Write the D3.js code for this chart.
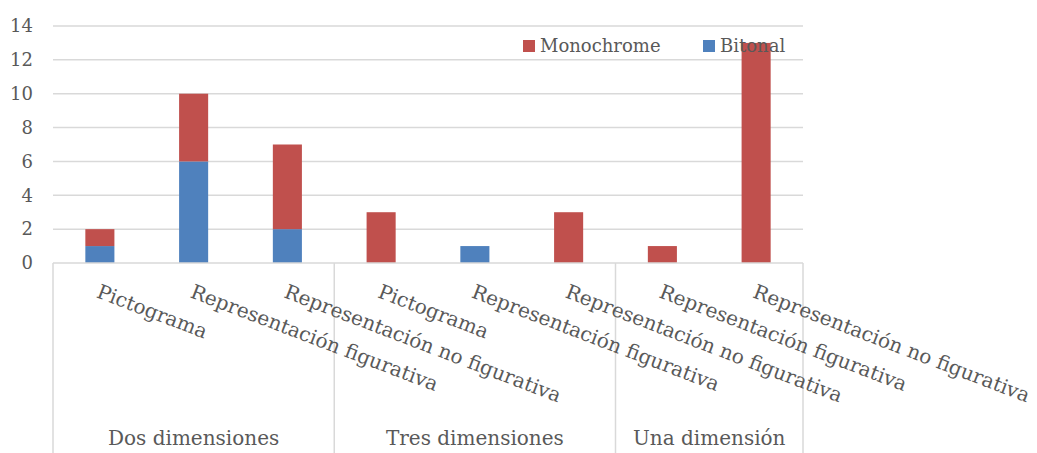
<!DOCTYPE html>
<html>
<head>
<meta charset="utf-8">
<script src="https://cdn.jsdelivr.net/npm/d3@7"></script>
<style>
  body { margin: 0; background: #fff; }
  text { font-family: "DejaVu Serif", serif; fill: #595959; }
</style>
</head>
<body>
<div class="display"></div>
<script>
const WIDTH = 1037;
const HEIGHT = 453;

// data
const groups = ['Dos dimensiones', 'Tres dimensiones', 'Una dimensión'];
const groupSizes = [3, 3, 2];
const categories = [
  'Pictograma', 'Representación figurativa', 'Representación no figurativa',
  'Pictograma', 'Representación figurativa', 'Representación no figurativa',
  'Representación figurativa', 'Representación no figurativa'
];
const bitonal = [1, 6, 2, 0, 1, 0, 0, 0];
const monochrome = [1, 4, 5, 3, 0, 3, 1, 13];
const seriesNames = ['Bitonal', 'Monochrome'];
const colors = { Bitonal: '#4F81BD', Monochrome: '#C0504D' };
const yTicks = [0, 2, 4, 6, 8, 10, 12, 14];

const PLOT_L = 53, PLOT_R = 803, PLOT_T = 26, PLOT_B = 263;

const svg = d3.select('.display')
  .append('svg')
  .attr('width', WIDTH)
  .attr('height', HEIGHT);

const x = d3.scaleBand()
  .domain(d3.range(categories.length))
  .range([PLOT_L, PLOT_R])
  .paddingInner(0.69)
  .paddingOuter(0.345);

const xc = d3.scaleBand()
  .domain(d3.range(categories.length))
  .range([PLOT_L, PLOT_R]);

const y = d3.scaleLinear()
  .domain([0, 14])
  .range([PLOT_B, PLOT_T]);

// gridlines
svg.append('g')
  .selectAll('line')
  .data(yTicks.filter(d => d > 0))
  .enter()
  .append('line')
  .attr('x1', PLOT_L)
  .attr('x2', PLOT_R)
  .attr('y1', d => y(d))
  .attr('y2', d => y(d))
  .attr('stroke', '#D9D9D9')
  .attr('stroke-width', 1.5);

// y labels
svg.append('g')
  .selectAll('text')
  .data(yTicks)
  .enter()
  .append('text')
  .attr('x', 33)
  .attr('y', d => y(d))
  .attr('dy', '0.35em')
  .attr('text-anchor', 'end')
  .style('font-size', '18px')
  .text(d => d);

// stacked bars
const rows = categories.map((c, i) => ({ i, Bitonal: bitonal[i], Monochrome: monochrome[i] }));
const stacked = d3.stack().keys(seriesNames)(rows);

svg.append('g')
  .selectAll('g')
  .data(stacked)
  .enter()
  .append('g')
  .attr('fill', d => colors[d.key])
  .selectAll('rect')
  .data(d => d.filter(p => p[1] > p[0]))
  .enter()
  .append('rect')
  .attr('x', d => x(d.data.i))
  .attr('width', x.bandwidth())
  .attr('y', d => y(d[1]))
  .attr('height', d => y(d[0]) - y(d[1]));

// axis line and group separators
const axis = svg.append('g').attr('stroke', '#D9D9D9').attr('stroke-width', 1.5);
axis.append('line')
  .attr('x1', PLOT_L).attr('x2', PLOT_R)
  .attr('y1', PLOT_B).attr('y2', PLOT_B);

let bounds = [0];
groupSizes.forEach(n => bounds.push(bounds[bounds.length - 1] + n));
const edge = i => i < categories.length ? xc(i) : PLOT_R;

axis.selectAll('.sep')
  .data(bounds)
  .enter()
  .append('line')
  .attr('class', 'sep')
  .attr('x1', d => edge(d))
  .attr('x2', d => edge(d))
  .attr('y1', PLOT_B)
  .attr('y2', HEIGHT);

// rotated category labels
svg.append('g')
  .selectAll('text')
  .data(categories)
  .enter()
  .append('text')
  .attr('transform', (d, i) => `translate(${xc(i) + xc.bandwidth() / 2 + 1},${PLOT_B + 20}) rotate(21)`)
  .attr('dy', '0.75em')
  .style('font-size', '20px')
  .text(d => d);

// group labels
svg.append('g')
  .selectAll('text')
  .data(groups)
  .enter()
  .append('text')
  .attr('x', (d, i) => (edge(bounds[i]) + edge(bounds[i + 1])) / 2)
  .attr('y', 445)
  .attr('text-anchor', 'middle')
  .style('font-size', '20px')
  .text(d => d);

// legend
const legend = svg.append('g');
const legendItems = [{ key: 'Monochrome', x: 523 }, { key: 'Bitonal', x: 703 }];
legend.selectAll('rect')
  .data(legendItems)
  .enter()
  .append('rect')
  .attr('x', d => d.x)
  .attr('y', 40)
  .attr('width', 12)
  .attr('height', 12)
  .attr('fill', d => colors[d.key]);
legend.selectAll('text')
  .data(legendItems)
  .enter()
  .append('text')
  .attr('x', d => d.x + 17)
  .attr('y', 46)
  .attr('dy', '0.35em')
  .style('font-size', '18px')
  .text(d => d.key);
</script>
</body>
</html>
